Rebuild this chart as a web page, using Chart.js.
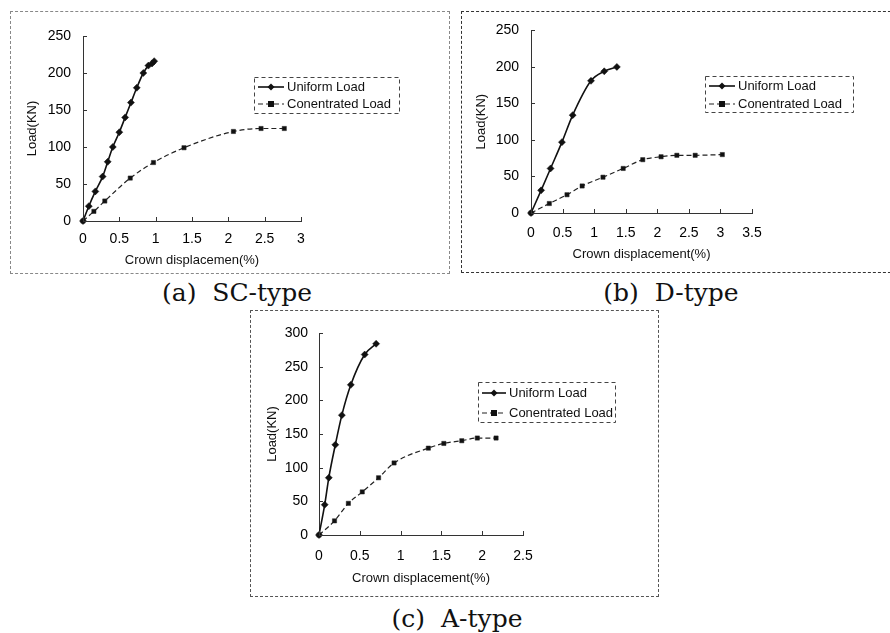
<!DOCTYPE html>
<html>
<head>
<meta charset="utf-8">
<script src="https://cdn.jsdelivr.net/npm/chart.js@4.4.1/dist/chart.umd.min.js"></script>
<style>
body { margin: 0; background: #fff; width: 890px; height: 633px; position: relative; overflow: hidden; }
canvas { position: absolute; }
.frame { position: absolute; box-sizing: border-box; }
.caption { position: absolute; font-family: 'DejaVu Serif', serif; font-size: 25px; color: #111; transform: translate(-50%, -50%); white-space: pre; }
</style>
</head>
<body>
<div class="frame" style="left:10px;top:11px;width:440px;height:263px;border:1px dashed #888;"></div>
<div class="frame" style="left:461px;top:11px;width:440px;height:262px;border:1px dashed #333;"></div>
<div class="frame" style="left:250px;top:310px;width:409px;height:287px;border:1px dashed #555;"></div>

<canvas id="chartA" width="440" height="262" style="left:8px;top:10px;"></canvas>
<canvas id="chartB" width="430" height="262" style="left:460px;top:10px;"></canvas>
<canvas id="chartC" width="408" height="287" style="left:250px;top:310px;"></canvas>

<div class="caption" style="left:237px;top:292px;">(a)  SC-type</div>
<div class="caption" style="left:671px;top:292px;">(b)  D-type</div>
<div class="caption" style="left:457px;top:618px;">(c)  A-type</div>

<script>
// 시리즈 이름
const seriesLabels = ['Uniform Load', 'Conentrated Load'];

// (a) SC-type
const scUniformX = [0, 0.08, 0.17, 0.27, 0.34, 0.41, 0.5, 0.58, 0.66, 0.74, 0.83, 0.9, 0.95, 0.98];
const scUniformY = [0, 20, 40, 60, 80, 100, 120, 140, 160, 180, 200, 210, 213, 216];
const scConcX = [0, 0.15, 0.3, 0.65, 0.97, 1.39, 2.07, 2.45, 2.77];
const scConcY = [0, 13, 27, 58, 79, 99, 121, 125, 125];
const scXTicks = [0, 0.5, 1, 1.5, 2, 2.5, 3];
const scYTicks = [0, 50, 100, 150, 200, 250];

// (b) D-type
const dUniformX = [0, 0.16, 0.31, 0.49, 0.66, 0.95, 1.16, 1.36];
const dUniformY = [0, 31, 61, 97, 134, 181, 194, 200];
const dConcX = [0, 0.29, 0.57, 0.81, 1.14, 1.46, 1.77, 2.06, 2.31, 2.6, 3.03];
const dConcY = [0, 13, 25, 37, 49, 61, 73, 77, 79, 79, 80];
const dXTicks = [0, 0.5, 1, 1.5, 2, 2.5, 3, 3.5];
const dYTicks = [0, 50, 100, 150, 200, 250];

// (c) A-type
const aUniformX = [0, 0.07, 0.12, 0.2, 0.28, 0.39, 0.56, 0.7];
const aUniformY = [0, 45, 85, 134, 178, 223, 268, 284];
const aConcX = [0, 0.19, 0.36, 0.53, 0.73, 0.92, 1.34, 1.53, 1.75, 1.94, 2.17];
const aConcY = [0, 21, 47, 64, 85, 107, 129, 136, 140, 144, 144];
const aXTicks = [0, 0.5, 1, 1.5, 2, 2.5];
const aYTicks = [0, 50, 100, 150, 200, 250, 300];

const FONT = "'Liberation Sans', Arial, sans-serif";

const toPoints = (xs, ys) => xs.map((x, i) => ({ x: x, y: ys[i] }));

// 점선 테두리가 있는 범례
const boxLegend = {
    id: 'boxLegend',
    afterDraw(chart, args, opts) {
        const ctx = chart.ctx;
        ctx.save();
        ctx.lineWidth = 1;
        ctx.strokeStyle = '#444';
        ctx.setLineDash([4, 3]);
        ctx.strokeRect(opts.x + 0.5, opts.y + 0.5, opts.w, opts.h);
        ctx.font = '13px ' + FONT;
        ctx.textBaseline = 'middle';
        ctx.fillStyle = '#111';
        chart.data.datasets.forEach((ds, i) => {
            const y = opts.y + opts.rows[i];
            const x0 = opts.x + 4, x1 = opts.x + opts.textX - 3;
            const mid = (x0 + x1) / 2;
            ctx.setLineDash(ds.borderDash || []);
            ctx.strokeStyle = ds.borderColor;
            ctx.lineWidth = ds.borderWidth;
            ctx.beginPath();
            ctx.moveTo(x0, y);
            ctx.lineTo(x1, y);
            ctx.stroke();
            ctx.setLineDash([]);
            const r = ds.pointRadius;
            ctx.beginPath();
            if (ds.pointStyle === 'rectRot') {
                ctx.moveTo(mid, y - r); ctx.lineTo(mid + r, y); ctx.lineTo(mid, y + r); ctx.lineTo(mid - r, y);
                ctx.closePath();
            } else {
                ctx.rect(mid - r, y - r, r * 2, r * 2);
            }
            ctx.fill();
            ctx.fillText(ds.label, opts.x + opts.textX, y);
        });
        ctx.restore();
    }
};

// 축 안쪽 눈금
const innerTicks = {
    id: 'innerTicks',
    afterDatasetsDraw(chart) {
        const { ctx, chartArea: a, scales: { x, y } } = chart;
        ctx.save();
        ctx.strokeStyle = '#333';
        ctx.lineWidth = 1;
        ctx.beginPath();
        x.ticks.forEach(t => {
            const px = Math.round(x.getPixelForValue(t.value)) + 0.5;
            ctx.moveTo(px, a.bottom);
            ctx.lineTo(px, a.bottom - 4);
        });
        y.ticks.forEach(t => {
            const py = Math.round(y.getPixelForValue(t.value)) + 0.5;
            ctx.moveTo(a.left, py);
            ctx.lineTo(a.left + 4, py);
        });
        ctx.stroke();
        ctx.restore();
    }
};

// 하중-변위 차트 생성
function makeChart(id, cfg) {
    return new Chart(document.getElementById(id), {
        type: 'scatter',
        data: {
            datasets: [{
                label: seriesLabels[0],
                data: toPoints(cfg.ux, cfg.uy),
                showLine: true,
                borderColor: '#111',
                backgroundColor: '#111',
                borderWidth: 1.6,
                pointStyle: 'rectRot',
                pointRadius: 3.5,
                pointBorderWidth: 0.5,
                cubicInterpolationMode: 'monotone',
                clip: false
            }, {
                label: seriesLabels[1],
                data: toPoints(cfg.cx, cfg.cy),
                showLine: true,
                borderColor: '#222',
                backgroundColor: '#111',
                borderWidth: 1.2,
                borderDash: [5, 3],
                pointStyle: 'rect',
                pointRadius: 3,
                pointBorderWidth: 0.5,
                cubicInterpolationMode: 'monotone',
                clip: false
            }]
        },
        options: {
            responsive: false,
            animation: false,
            layout: { padding: { left: 0, top: cfg.padTop, right: cfg.padRight, bottom: 0 } },
            plugins: {
                legend: { display: false },
                tooltip: { enabled: false },
                boxLegend: cfg.legend
            },
            scales: {
                x: {
                    type: 'linear',
                    min: 0,
                    max: cfg.xTicks[cfg.xTicks.length - 1],
                    afterBuildTicks: s => { s.ticks = cfg.xTicks.map(v => ({ value: v })); },
                    afterFit: s => { s.height = cfg.xAxisH; },
                    grid: { display: false, drawTicks: false },
                    border: { display: true, color: '#333', width: 1, dash: cfg.xDash },
                    ticks: { padding: cfg.xTickPad, color: '#000', font: { family: FONT, size: 14 }, callback: v => String(v) },
                    title: {
                        display: true,
                        text: cfg.xTitle,
                        color: '#111',
                        font: { family: FONT, size: 13 },
                        padding: { top: 0, bottom: cfg.xTitlePad }
                    }
                },
                y: {
                    type: 'linear',
                    min: 0,
                    max: cfg.yTicks[cfg.yTicks.length - 1],
                    afterBuildTicks: s => { s.ticks = cfg.yTicks.map(v => ({ value: v })); },
                    afterFit: s => { s.width = cfg.yAxisW; },
                    grid: { display: false, drawTicks: false },
                    border: { display: true, color: '#333', width: 1, dash: cfg.yDash },
                    ticks: { padding: cfg.yTickPad, color: '#000', font: { family: FONT, size: 14 }, callback: v => String(v) },
                    title: {
                        display: true,
                        text: 'Load(KN)',
                        color: '#111',
                        font: { family: FONT, size: 13 },
                        padding: { top: cfg.yTitlePad, bottom: 0 }
                    }
                }
            }
        },
        plugins: [boxLegend, innerTicks]
    });
}

makeChart('chartA', {
    ux: scUniformX, uy: scUniformY, cx: scConcX, cy: scConcY,
    xTicks: scXTicks, yTicks: scYTicks,
    xTitle: 'Crown displacemen(%)',
    padTop: 26, padRight: 147, xAxisH: 51, yAxisW: 75,
    xTickPad: 10, yTickPad: 12, xTitlePad: 4, yTitlePad: 17,
    xDash: [5, 4], yDash: [6, 3],
    legend: { x: 246, y: 67, w: 145, h: 36, textX: 33, rows: [10, 27] }
});

makeChart('chartB', {
    ux: dUniformX, uy: dUniformY, cx: dConcX, cy: dConcY,
    xTicks: dXTicks, yTicks: dYTicks,
    xTitle: 'Crown displacement(%)',
    padTop: 19, padRight: 138, xAxisH: 59, yAxisW: 71,
    xTickPad: 12, yTickPad: 12, xTitlePad: 10, yTitlePad: 14,
    xDash: [], yDash: [7, 2, 1, 2],
    legend: { x: 245, y: 66, w: 148, h: 36, textX: 33, rows: [10, 28] }
});

makeChart('chartC', {
    ux: aUniformX, uy: aUniformY, cx: aConcX, cy: aConcY,
    xTicks: aXTicks, yTicks: aYTicks,
    xTitle: 'Crown displacement(%)',
    padTop: 23, padRight: 135, xAxisH: 62, yAxisW: 69,
    xTickPad: 13, yTickPad: 11, xTitlePad: 11, yTitlePad: 15,
    xDash: [6, 3], yDash: [6, 3],
    legend: { x: 228, y: 72, w: 137, h: 40, textX: 31, rows: [11, 31] }
});
</script>
</body>
</html>
